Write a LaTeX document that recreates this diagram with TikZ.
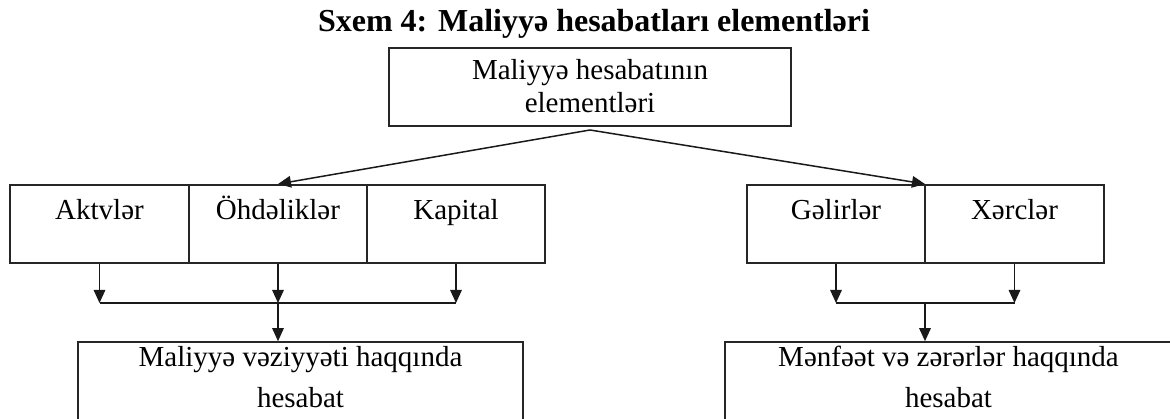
\documentclass[tikz,border=0pt]{standalone}
\usepackage{fontspec}
\setmainfont{Liberation Serif}
\usetikzlibrary{arrows.meta}
\begin{document}
\begin{tikzpicture}[x=1pt,y=-1pt,
  box/.style={draw=black!85, line width=1.6pt, inner sep=0pt, font=\fontsize{29}{40}\selectfont},
  rowbox/.style={box, text height=35pt, text depth=43pt},
  conn/.style={line width=1.5pt, draw=black!90},
  arr/.style={conn, -{Triangle[length=13pt,width=11.5pt]}}]
\useasboundingbox (0,0) rectangle (1170,419);
\clip (0,0) rectangle (1170,419);
\node[font=\bfseries\fontsize{32}{38}\selectfont, anchor=base] (title) at (594,32) {Sxem 4: Maliyyə hesabatları elementləri};
\node[box, align=center, font=\fontsize{29}{33}\selectfont, minimum width=402pt, text height=65pt, text depth=13pt] (top) at (590,87) {Maliyyə hesabatının\\elementləri};
\coordinate (apex) at (590,130);
% left group
\node[rowbox, minimum width=179pt] (akt) at (99.5,224) {Aktvlər};
\node[rowbox, minimum width=178pt] (ohd) at (278,224) {Öhdəliklər};
\node[rowbox, minimum width=178pt] (kap) at (456,224) {Kapital};
% right group
\node[rowbox, minimum width=178pt] (gel) at (836,224) {Gəlirlər};
\node[rowbox, minimum width=179pt] (xer) at (1014.5,224) {Xərclər};
% bottom boxes (cut by the picture's lower and right edges)
\node[box, align=center, minimum width=445pt, text height=65pt, text depth=20pt] (mvh) at (300.5,384.5) {Maliyyə vəziyyəti haqqında\\hesabat};
\node[box, align=center, minimum width=447pt, text height=65pt, text depth=20pt] (mzh) at (948.5,384.5) {Mənfəət və zərərlər haqqında\\hesabat};
% buses
\coordinate (busL) at (278,303);
\coordinate (busR) at (925,303);
\coordinate (tipL) at (278,184);
\coordinate (tipR) at (925,184);
\draw[arr] (apex) -- (tipL);
\draw[arr] (apex) -- (tipR);
\draw[arr] (akt.south) -- (akt.south |- busL);
\draw[arr] (ohd.south) -- (ohd.south |- busL);
\draw[arr] (kap.south) -- (kap.south |- busL);
\draw[conn] (akt.south |- busL) -- (kap.south |- busL);
\draw[arr] (busL) -- (busL |- mvh.north);
\draw[arr] (gel.south) -- (gel.south |- busR);
\draw[arr] (xer.south) -- (xer.south |- busR);
\draw[conn] (gel.south |- busR) -- (xer.south |- busR);
\draw[arr] (busR) -- (busR |- mzh.north);
\end{tikzpicture}
\end{document}
